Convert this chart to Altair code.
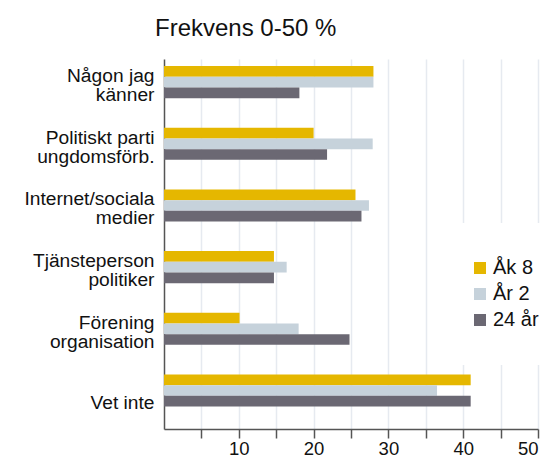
import altair as alt
import pandas as pd

categories = ["Någon jag|känner", "Politiskt parti|ungdomsförb.", "Internet/sociala|medier",
              "Tjänsteperson|politiker", "Förening|organisation", "Vet inte"]
series = ["Åk 8", "År 2", "24 år"]
ak8 = [28.0, 20.0, 25.6, 14.7, 10.1, 41.0]
ar2 = [28.0, 27.9, 27.4, 16.4, 18.0, 36.5]
ar24 = [18.1, 21.8, 26.4, 14.7, 24.8, 41.0]
colors = ["#E5B700", "#C6D2DB", "#6B6873"]
x_ticks = [5, 10, 15, 20, 25, 30, 35, 40, 45, 50]

rows = []
for s, vals in zip(series, [ak8, ar2, ar24]):
    for c, v in zip(categories, vals):
        rows.append({"kategori": c, "grupp": s, "värde": v})
df = pd.DataFrame(rows)

FONT = "Liberation Sans"

chart = alt.Chart(df).mark_bar().encode(
    x=alt.X("värde:Q",
            scale=alt.Scale(domain=[0, 50], nice=False),
            axis=alt.Axis(title=None, values=x_ticks,
                          labelExpr="datum.value % 10 == 0 ? datum.label : ''",
                          grid=True, gridColor="#E6EAF0", gridWidth=1.5,
                          domainColor="#555555", domainWidth=1.5,
                          tickColor="#555555", tickWidth=1.5, tickSize=9,
                          labelFont=FONT, labelFontSize=18.5, labelColor="#111111",
                          labelPadding=1)),
    y=alt.Y("kategori:N", sort=categories,
            scale=alt.Scale(paddingInner=0.48, paddingOuter=0.24, align=0.24),
            axis=alt.Axis(title=None,
                          labelExpr="datum.label == 'Vet inte' ? ['', '', 'Vet inte'] : split(datum.label, '|')",
                          ticks=False, domainColor="#555555", domainWidth=1.5,
                          labelFont=FONT, labelFontSize=19.2, labelColor="#111111",
                          labelLineHeight=19, labelPadding=10, labelLimit=200,
                          labelBaseline="middle", labelOffset=-6)),
    yOffset=alt.YOffset("grupp:N", sort=series,
                        scale=alt.Scale(paddingInner=0, paddingOuter=0)),
    color=alt.Color("grupp:N", sort=series,
                    scale=alt.Scale(domain=series, range=colors),
                    legend=alt.Legend(title=None, orient="none", legendX=271, legendY=164,
                                      symbolType="square", symbolSize=144,
                                      symbolStrokeWidth=0, labelFont=FONT,
                                      labelFontSize=20, labelColor="#111111",
                                      labelOffset=3, rowPadding=6, padding=35,
                                      fillColor="white")),
).properties(
    width=374,
    height=370,
    title=alt.TitleParams("Frekvens 0-50 %", anchor="start", frame="group",
                          font=FONT, fontSize=24, fontWeight="normal",
                          color="#111111", dx=-9, offset=27, dy=28,
                          baseline="alphabetic"),
    autosize=alt.AutoSizeParams(type="none"),
    padding={"left": 156, "top": 51, "right": 5, "bottom": 30},
).configure_view(stroke=None)

chart.save("out.html", embed_options={"renderer": "svg", "actions": False})
